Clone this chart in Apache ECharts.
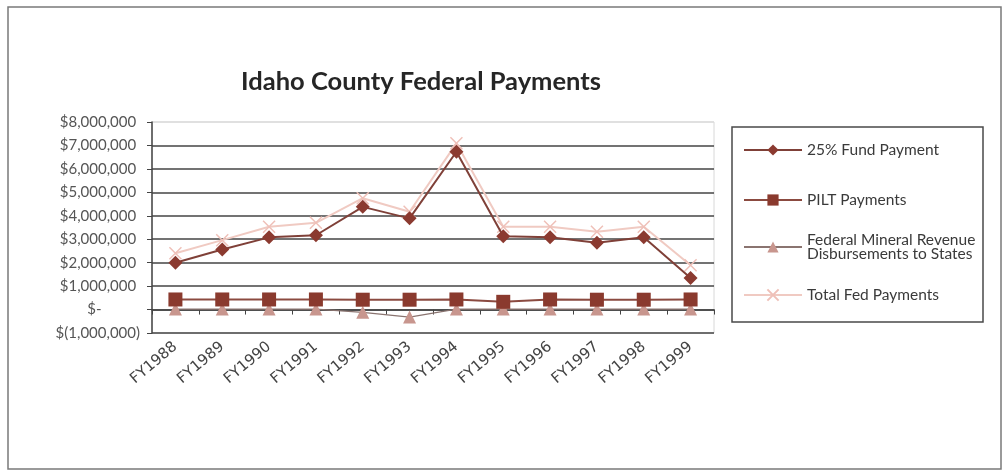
<!DOCTYPE html>
<html>
<head>
<meta charset="utf-8">
<script src="https://cdn.jsdelivr.net/npm/echarts@6/dist/echarts.min.js"></script>
<style>
  html, body { margin: 0; padding: 0; background: #ffffff; }
  #chart { width: 1003px; height: 472px; }
</style>
</head>
<body>
<div id="chart"></div>
<script>
// Fiscal years shown on the category axis
const years = ['FY1988', 'FY1989', 'FY1990', 'FY1991', 'FY1992', 'FY1993',
               'FY1994', 'FY1995', 'FY1996', 'FY1997', 'FY1998', 'FY1999'];

// Payment streams, in dollars
const fundPayment = [2000000, 2560000, 3080000, 3170000, 4380000, 3890000,
                     6730000, 3130000, 3080000, 2850000, 3080000, 1350000];
const piltPayments = [430000, 430000, 430000, 430000, 420000, 420000,
                      430000, 330000, 430000, 420000, 420000, 430000];
const mineralRevenue = [20000, 20000, 20000, 20000, -120000, -320000,
                        20000, 20000, 20000, 20000, 20000, 20000];
const totalPayments = [2400000, 2960000, 3530000, 3700000, 4750000, 4170000,
                       7090000, 3530000, 3530000, 3320000, 3530000, 1890000];

const seriesNames = ['25% Fund Payment', 'PILT Payments',
                     'Federal Mineral Revenue Disbursements to States', 'Total Fed Payments'];

// Accounting-style dollar labels
function money(v) {
  if (v === 0) return '$-          ';
  const s = Math.abs(v).toLocaleString('en-US');
  return v < 0 ? '$(' + s + ')' : '$' + s + ' ';
}

const chart = echarts.init(document.getElementById('chart'));

const legendBase = {
  orient: 'vertical',
  left: 738,
  itemWidth: 58,
  itemHeight: 14,
  itemGap: 4,
  textStyle: { fontFamily: 'Lato', fontSize: 15.5, color: '#3a3a3a', lineHeight: 14 },
  formatter: function (name) {
    return name === seriesNames[2] ? 'Federal Mineral Revenue\nDisbursements to States' : name;
  }
};

chart.setOption({
  backgroundColor: '#ffffff',
  animation: false,
  title: {
    text: 'Idaho County Federal Payments',
    left: 416,
    textAlign: 'center',
    top: 64,
    textStyle: { fontFamily: 'Lato', fontWeight: 'bold', fontSize: 25.5, color: '#262626' }
  },
  graphic: [
    { type: 'rect', shape: { x: 8, y: 7, width: 993, height: 462 },
      style: { fill: 'none', stroke: '#7a7a7a', lineWidth: 1.5 }, z: -1 },
    { type: 'rect', shape: { x: 732, y: 127, width: 251, height: 195 },
      style: { fill: '#ffffff', stroke: '#4a4a4a', lineWidth: 1.5 }, z: 0 }
  ],
  legend: [
    Object.assign({}, legendBase, { data: [seriesNames[0]], top: 137 }),
    Object.assign({}, legendBase, { data: [seriesNames[1]], top: 187 }),
    Object.assign({}, legendBase, { data: [seriesNames[2]], top: 227 }),
    Object.assign({}, legendBase, { data: [seriesNames[3]], top: 282 })
  ],
  grid: { left: 152, right: 289, top: 122, bottom: 139, show: true,
          borderColor: '#d8d8d8', borderWidth: 1, backgroundColor: 'transparent' },
  xAxis: {
    type: 'category',
    data: years,
    boundaryGap: true,
    axisLine: { lineStyle: { color: '#444', width: 1.5 } },
    axisTick: { show: true, length: 5, alignWithLabel: false, lineStyle: { color: '#444' } },
    axisLabel: { rotate: 40, interval: 0, margin: 12, fontFamily: 'DejaVu Sans',
                 fontSize: 15, color: '#444' }
  },
  yAxis: {
    type: 'value',
    min: -1000000,
    max: 8000000,
    interval: 1000000,
    axisLine: { show: true, lineStyle: { color: '#444', width: 1.5 } },
    axisTick: { show: true, length: 5, lineStyle: { color: '#444' } },
    axisLabel: { formatter: money, fontFamily: 'Lato', fontSize: 15, color: '#555', margin: 12 },
    splitLine: { show: true, lineStyle: {
      color: ['#444', '#444', '#444', '#444', '#444', '#444', '#444', '#444', '#444', '#dcdcdc'],
      width: 1.5 } }
  },
  series: [
    {
      name: seriesNames[2], type: 'line', data: mineralRevenue, z: 2,
      symbol: 'triangle', symbolSize: 13,
      lineStyle: { color: '#8a7470', width: 1.2 },
      itemStyle: { color: '#c8968e' }
    },
    {
      name: seriesNames[3], type: 'line', data: totalPayments, z: 3,
      symbol: 'path://M0,0L10,10M10,0L0,10', symbolSize: 12,
      lineStyle: { color: '#f0cac2', width: 2 },
      itemStyle: { color: '#f0c4bc', borderColor: '#efc0b8', borderWidth: 1.5 }
    },
    {
      name: seriesNames[1], type: 'line', data: piltPayments, z: 4,
      symbol: 'rect', symbolSize: 14,
      lineStyle: { color: '#8b4a40', width: 2 },
      itemStyle: { color: '#8a3a2e' }
    },
    {
      name: seriesNames[0], type: 'line', data: fundPayment, z: 5,
      symbol: 'diamond', symbolSize: 14,
      lineStyle: { color: '#7f4038', width: 2 },
      itemStyle: { color: '#8b3a30' }
    }
  ]
});
</script>
</body>
</html>
